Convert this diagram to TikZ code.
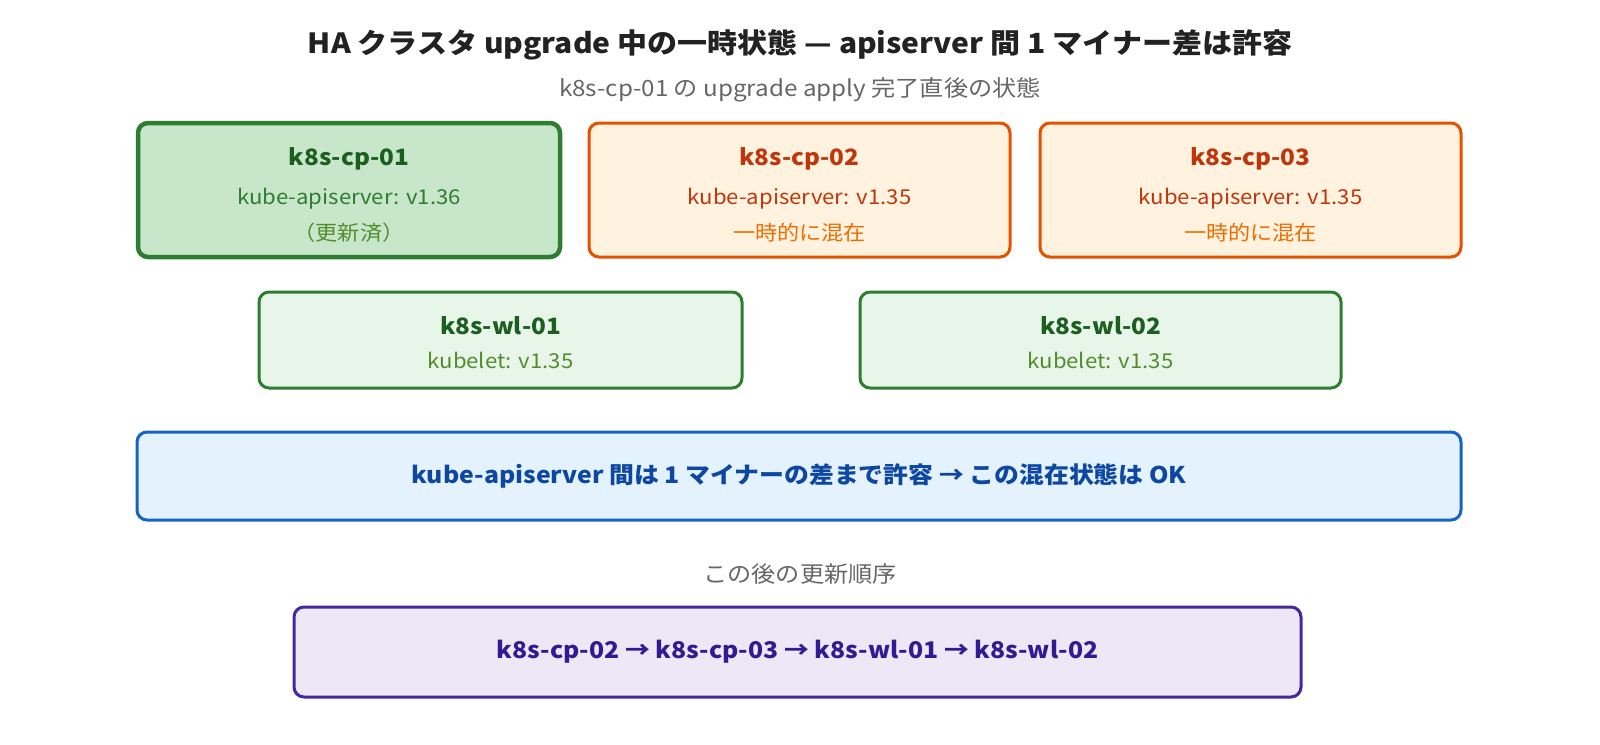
\documentclass[tikz,border=0pt]{standalone}
\usepackage{fontspec}
\setmainfont{Noto Sans CJK JP}[FakeStretch=1.08]
\definecolor{gruenR}{HTML}{2E7D32}
\definecolor{gruenF}{HTML}{C8E6C9}
\definecolor{gruenH}{HTML}{E8F5E9}
\definecolor{gruenT}{HTML}{1B5E20}
\definecolor{gruenS}{HTML}{558B2F}
\definecolor{orangeR}{HTML}{E65100}
\definecolor{orangeF}{HTML}{FFF3E0}
\definecolor{orangeT}{HTML}{BF360C}
\definecolor{orangeS}{HTML}{EF6C00}
\definecolor{blauR}{HTML}{1565C0}
\definecolor{blauF}{HTML}{E3F2FD}
\definecolor{blauT}{HTML}{0D47A1}
\definecolor{lilaR}{HTML}{4527A0}
\definecolor{lilaF}{HTML}{EDE7F6}
\definecolor{lilaT}{HTML}{311B92}
\definecolor{grauT}{HTML}{666666}
\definecolor{titelT}{HTML}{222222}
\begin{document}
\begin{tikzpicture}[x=1pt,y=-1pt,
  kasten/.style={rounded corners=10pt,line width=3pt,inner sep=0pt},
  kopf/.style={font=\fontsize{22.5}{26}\selectfont\bfseries},
  zeile/.style={font=\fontsize{20.5}{24}\selectfont}]
\useasboundingbox (0,0) rectangle (1600,744);
% Titel
\node[font=\fontsize{27.8}{32}\selectfont\bfseries,text=titelT] (titel) at (800,45) {HA クラスタ upgrade 中の一時状態 — apiserver 間 1 マイナー差は許容};
\node[font=\fontsize{22.4}{26}\selectfont,text=grauT] (unter) at (800,90) {k8s-cp-01 の upgrade apply 完了直後の状態};
% Control Plane
\node[kasten,line width=4.5pt,draw=gruenR,fill=gruenF,minimum width=422,minimum height=134] (cp1) at (349,190) {};
\node[kopf,text=gruenT] (cp1k) at (349,159) {k8s-cp-01};
\node[zeile,text=gruenR] (cp1v) at (349,199) {kube-apiserver: v1.36};
\node[zeile,text=gruenS] (cp1s) at (349,233) {（更新済）};
\node[kasten,draw=orangeR,fill=orangeF,minimum width=421,minimum height=134] (cp2) at (799.5,190) {};
\node[kopf,text=orangeT] (cp2k) at (799.5,159) {k8s-cp-02};
\node[zeile,text=orangeT] (cp2v) at (799.5,199) {kube-apiserver: v1.35};
\node[zeile,text=orangeS] (cp2s) at (799.5,233) {一時的に混在};
\node[kasten,draw=orangeR,fill=orangeF,minimum width=421,minimum height=134] (cp3) at (1250.5,190) {};
\node[kopf,text=orangeT] (cp3k) at (1250.5,159) {k8s-cp-03};
\node[zeile,text=orangeT] (cp3v) at (1250.5,199) {kube-apiserver: v1.35};
\node[zeile,text=orangeS] (cp3s) at (1250.5,233) {一時的に混在};
% Worker
\node[kasten,draw=gruenR,fill=gruenH,minimum width=483,minimum height=96] (wl1) at (500.5,340) {};
\node[kopf,text=gruenT] (wl1k) at (500.5,326) {k8s-wl-01};
\node[zeile,text=gruenS] (wl1v) at (500.5,360) {kubelet: v1.35};
\node[kasten,draw=gruenR,fill=gruenH,minimum width=481,minimum height=96] (wl2) at (1100.5,340) {};
\node[kopf,text=gruenT] (wl2k) at (1100.5,326) {k8s-wl-02};
\node[zeile,text=gruenS] (wl2v) at (1100.5,360) {kubelet: v1.35};
% Hinweis
\node[kasten,draw=blauR,fill=blauF,minimum width=1324,minimum height=88] (hinweis) at (799,476) {};
\node[kopf,font=\fontsize{23}{26}\selectfont\bfseries,text=blauT] (hinweisT) at (799,476) {kube-apiserver 間は 1 マイナーの差まで許容 → この混在状態は OK};
% Reihenfolge
\node[font=\fontsize{22.4}{26}\selectfont,text=grauT] (folgeK) at (800,574) {この後の更新順序};
\node[kasten,draw=lilaR,fill=lilaF,minimum width=1007,minimum height=90] (folge) at (797.5,652) {};
\node[kopf,font=\fontsize{23}{26}\selectfont\bfseries,text=lilaT] (folgeT) at (797.5,652) {k8s-cp-02 → k8s-cp-03 → k8s-wl-01 → k8s-wl-02};
\end{tikzpicture}
\end{document}
